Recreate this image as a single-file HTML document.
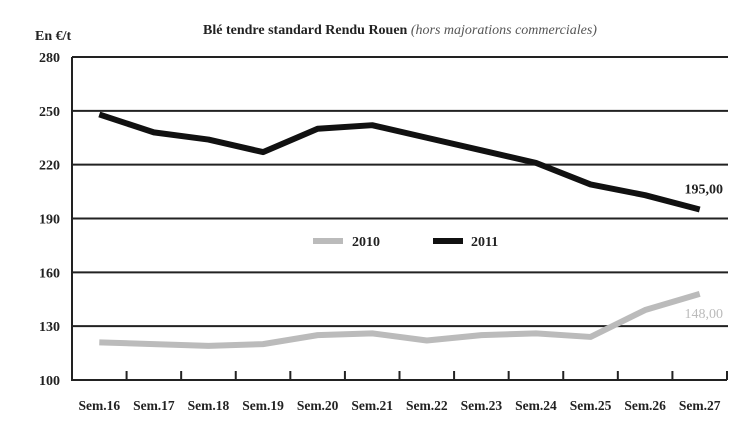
<!DOCTYPE html>
<html><head><meta charset="utf-8"><style>
body{margin:0;background:#fff;width:747px;height:421px;overflow:hidden}
text{font-family:"Liberation Serif",serif}
</style></head><body>
<svg width="747" height="421">
<text x="35" y="40" font-size="14" font-weight="bold" fill="#222">En €/t</text>
<text x="400" y="34" font-size="14" text-anchor="middle" fill="#222"><tspan font-weight="bold">Blé tendre standard Rendu Rouen </tspan><tspan font-style="italic" fill="#555">(hors majorations commerciales)</tspan></text>
<g id="grid"></g><g id="series"></g><g id="xlabels"></g>
<g>
<line x1="313" y1="241" x2="343" y2="241" stroke="#bbb" stroke-width="6"/>
<text x="352" y="246" font-size="14" font-weight="bold" fill="#222">2010</text>
<line x1="433" y1="241" x2="463" y2="241" stroke="#111" stroke-width="6"/>
<text x="471" y="246" font-size="14" font-weight="bold" fill="#222">2011</text>
</g>
</svg>
<script>
const categories=["Sem.16","Sem.17","Sem.18","Sem.19","Sem.20","Sem.21","Sem.22","Sem.23","Sem.24","Sem.25","Sem.26","Sem.27"];
const values2010=[121,120,119,120,125,126,122,125,126,124,139,148];
const values2011=[248,238,234,227,240,242,235,228,221,209,203,195];
const yTicks=[100,130,160,190,220,250,280];
const x0=72,x1=727,yTop=57,yBot=380,yMin=100,yMax=280;
const cw=(x1-x0)/categories.length;
const X=i=>x0+cw*(i+0.5);
const Y=v=>yBot-(v-yMin)/(yMax-yMin)*(yBot-yTop);
const NS="http://www.w3.org/2000/svg";
function mk(t,a,p){const e=document.createElementNS(NS,t);for(const k in a)e.setAttribute(k,a[k]);p.appendChild(e);return e;}
const g=document.getElementById('grid');
yTicks.forEach(v=>{
 if(v>yMin){const l=mk('line',{x1:x0,x2:x1+1,y1:Y(v),y2:Y(v),stroke:'#222','stroke-width':2},g);
 
 }
 const t=mk('text',{x:60,y:Y(v)+5,'font-size':14,'font-weight':'bold','text-anchor':'end',fill:'#222'},g);
 t.textContent=v;
 
 
});
const ax=mk('path',{d:`M${x0},${yTop} V${yBot} H${x1}`,stroke:'#222','stroke-width':2,fill:'none'},g);


categories.forEach((c,i)=>{
 const tk=mk('line',{x1:x0+cw*(i+1),x2:x0+cw*(i+1),y1:yBot,y2:yBot-9,stroke:'#222','stroke-width':2},g);
 
 
 const t=mk('text',{x:X(i),y:410,'font-size':13.5,'font-weight':'bold','text-anchor':'middle',fill:'#222'},document.getElementById('xlabels'));
 t.textContent=c;
 
 
});
const s=document.getElementById('series');
function line(vals,col,name){
 const p=mk('polyline',{points:vals.map((v,i)=>X(i)+','+Y(v)).join(' '),fill:'none',stroke:col,'stroke-width':6,'stroke-linejoin':'round'},s);
 
 
}
line(values2010,'#bbb','line-2010');
line(values2011,'#111','line-2011');
const n=categories.length-1;
const l1=mk('text',{x:X(n)+4,y:Y(values2011[n])-16,'font-size':14,'font-weight':'bold','text-anchor':'middle',fill:'#222'},s);
l1.textContent=values2011[n].toFixed(2).replace('.',',');


const l2=mk('text',{x:X(n)+4,y:Y(values2010[n])+24,'font-size':14,'text-anchor':'middle',fill:'#bbb'},s);
l2.textContent=values2010[n].toFixed(2).replace('.',',');


</script>
</body></html>
